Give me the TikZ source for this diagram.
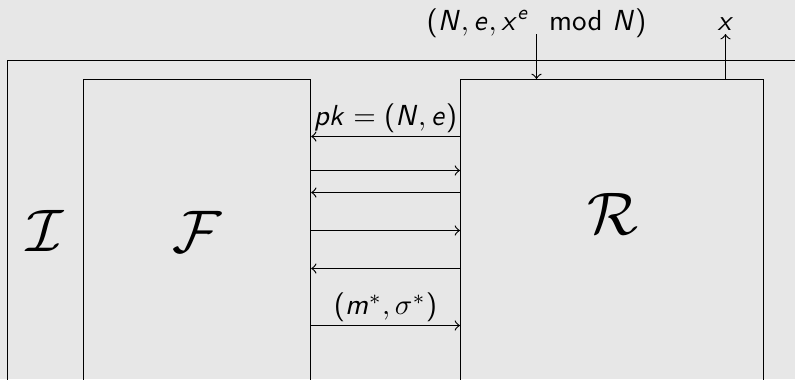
\documentclass[tikz,border=0pt]{standalone}
\usepackage{amsmath}
\usetikzlibrary{positioning}
\definecolor{slidegray}{RGB}{231,231,231}

% sans serif math, as on the slide
\DeclareSymbolFont{sfletters}{OT1}{cmss}{m}{it}
\SetSymbolFont{operators}{normal}{OT1}{cmss}{m}{n}
\makeatletter
\@tfor\sfchar:=pkNexm\do{%
  \edef\sfdecl{\noexpand\DeclareMathSymbol{\sfchar}{\noexpand\mathalpha}{sfletters}{`\sfchar}}\sfdecl}
\makeatother

\begin{document}
\begin{tikzpicture}[
    x=0.345pt, y=-0.345pt,
    world/.style={rectangle, draw, anchor=north west, inner sep=0pt, minimum height=124pt},
    party/.style={rectangle, draw, anchor=north west, inner sep=0pt, minimum height=120pt},
    bigname/.style={inner sep=0pt, font=\fontsize{21}{25}\selectfont},
    msg/.style={above, inner sep=1pt},
    tag/.style={anchor=base, inner sep=0pt},
    >=to
]

% Slide background
\useasboundingbox[fill=slidegray] (0,0) rectangle (795,379);
\clip (0,0) rectangle (795,379);

% Boxes
\node[world, minimum width=281pt] (Ideal) at (7,60) {};
\node[party, minimum width=78.3pt] (F) at (83,79) {};
\node[party, minimum width=104.5pt] (R) at (460,79) {};

% Names
\node[bigname] (Iname) at (45,231) {$\mathcal{I}$};
\node[bigname] (Fname) at (197.5,232) {$\mathcal{F}$};
\node[bigname] (Rname) at (612.5,214) {$\mathcal{R}$};

% Messages between F and R
\draw[<-] (F.east |- 0,136.5) -- node[msg] (pk) {$pk=(N,e)$} (R.west |- 0,136.5);
\foreach \y/\tip in {170.5/->, 192.5/<-, 230.5/->, 268.5/<-}
    \draw[\tip] (F.east |- 0,\y) -- (R.west |- 0,\y);
\draw[->] (F.east |- 0,325.5) -- node[msg] (forgery) {$(m^*,\sigma^*)$} (R.west |- 0,325.5);

% Challenge and answer
\node[tag] (query) at (536.5,30) {$(N,e,x^e \mod N)$};
\draw[->] ([yshift=-1.4pt]query.base) -- (query.base |- R.north);
\node[tag] (answer) at (725.5,30) {$x$};
\draw[->] (answer.base |- R.north) -- ([yshift=-1.4pt]answer.base);

\end{tikzpicture}
\end{document}
